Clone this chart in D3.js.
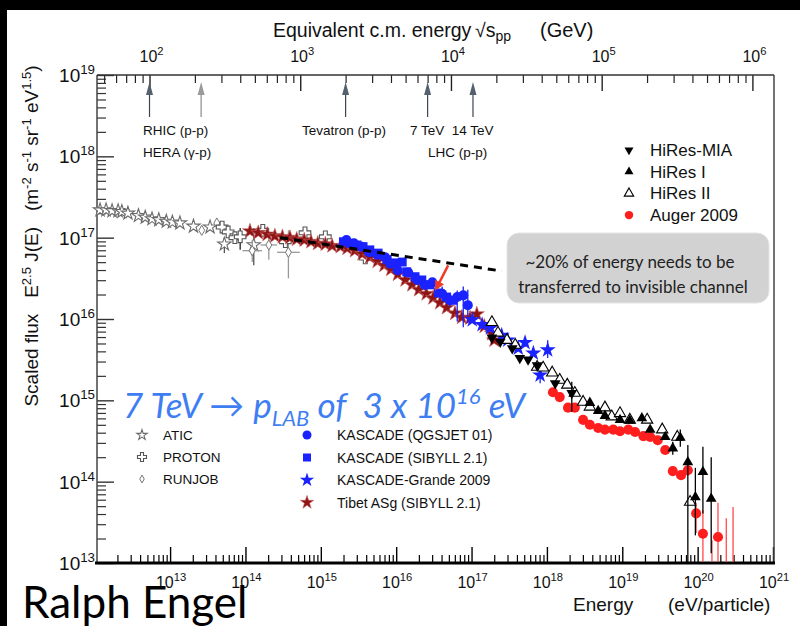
<!DOCTYPE html>
<html>
<head>
<meta charset="utf-8">
<script src="https://cdn.jsdelivr.net/npm/d3@7"></script>
<style>
  body { margin: 0; background: #fff; }
  text { font-family: "Liberation Sans", Arial, sans-serif; }
  .slide { font-family: Lato, "Open Sans", sans-serif; }
</style>
</head>
<body>
<svg id="chart" width="800" height="626"></svg>
<script>
// values: [log10 E (eV), log10 flux, err lo, err hi, E lo, E hi]
var atic = [[12.07,17.34],[12.15,17.34],[12.23,17.33],[12.31,17.33],[12.36,17.32],[12.44,17.30],
  [12.58,17.27],[12.67,17.25],[12.76,17.23],[12.85,17.22],[12.95,17.20],[13.03,17.19],[13.13,17.18],
  [13.31,17.14],[13.53,17.13],[13.72,16.92,16.81,17.00],[14.11,16.91,16.66,17.12]];
var runjob = [[13.42,17.09],[13.62,17.18],[14.09,16.84,16.70,16.97,13.96,14.22],
  [14.31,16.91,16.73,17.07,14.20,14.42],[14.57,16.82,16.50,17.09,14.42,14.72]];
var proton = [[13.69,17.13],[13.77,17.07],[13.86,17.00],[13.93,17.01,16.85,17.12],[14.23,17.09],
  [14.53,16.95],[14.79,17.06],[15.06,17.01],[15.59,16.75]];
var tibet = [[14.06,17.08],[14.17,17.06],[14.29,17.04],[14.39,17.02],[14.49,17.01],[14.59,17.00],
  [14.68,16.98],[14.78,16.97],[14.87,16.95],[14.96,16.93],[15.06,16.92],[15.15,16.90],[15.26,16.89],
  [15.35,16.87],[15.45,16.84],[15.55,16.80],[15.65,16.76],[15.75,16.71],[15.84,16.66],[15.93,16.61],
  [16.02,16.55],[16.12,16.48],[16.21,16.42],[16.30,16.36],[16.40,16.31],[16.49,16.26],[16.58,16.20],
  [16.67,16.14],[16.78,16.07],[16.87,16.02],[16.98,16.01],[17.07,16.06],[17.17,15.91],[17.27,15.82],
  [17.30,15.74]];
var kascadeQ = [[15.34,16.97],[15.44,16.93],[15.53,16.89],[15.64,16.82],[15.75,16.79],[15.85,16.76],
  [15.92,16.68],[16.02,16.60],[16.16,16.57],[16.28,16.48],[16.38,16.42],[16.48,16.45],
  [16.61,16.31,16.22,16.40],[16.71,16.23,16.15,16.31],[16.81,16.27,15.97,16.35],
  [16.89,16.29,15.90,16.40],[16.95,16.17,15.95,16.36]];
var kascadeS = [[15.30,16.95],[15.39,16.93],[15.48,16.91],[15.56,16.89],[15.65,16.85],[15.76,16.81],
  [15.88,16.73],[15.99,16.69],[16.08,16.70],[16.14,16.58],[16.25,16.52],[16.34,16.48],[16.45,16.42],
  [16.56,16.32],[16.67,16.27],[16.75,16.23]];
var grande = [[17.01,15.99],[17.14,15.93],[17.25,15.89],[17.40,15.80],[17.48,15.74],[17.62,15.64],
  [17.71,15.71,15.66,15.76],[17.82,15.58],[17.91,15.31,15.21,15.41],[18.01,15.62,15.52,15.74]];
var hiresMia = [[17.27,15.77],[17.38,15.72],[17.54,15.64],[17.64,15.52],[17.75,15.50],[17.87,15.43],
  [18.11,15.21],[18.33,15.09,14.86,15.23]];
var hires1 = [[18.57,14.97],[18.68,14.87],[18.77,14.81],[18.97,14.76],[19.10,14.75],[19.26,14.78],
  [19.37,14.64],[19.57,14.55],[19.67,14.41,14.33,14.49],[19.77,14.54,14.43,14.64],
  [19.87,14.24,12.9,14.45],[19.97,13.81,13.34,14.17],[20.07,14.12,13.61,14.43],[20.18,13.79,13.12,14.30]];
var hires2 = [[17.27,15.96],[17.35,15.83],[17.47,15.74],[17.58,15.68],[17.87,15.41],[17.95,15.40],
  [18.07,15.34],[18.17,15.25],[18.27,15.19],[18.37,15.09],[18.48,14.98],[18.57,14.92],[18.77,14.91],
  [18.86,14.80],[18.97,14.84],[19.10,14.76],[19.33,14.76],[19.53,14.64],[19.73,14.55],[19.90,13.75]];
var auger = [[18.08,15.10],[18.17,15.04],[18.28,14.91],[18.37,14.91],[18.48,14.76],[18.57,14.70],
  [18.68,14.66],[18.77,14.64],[18.88,14.64],[18.97,14.62],[19.08,14.64],[19.17,14.61],[19.28,14.56],
  [19.37,14.55],[19.47,14.51],[19.57,14.39],[19.67,14.13,14.08,14.19],[19.78,14.08,14.02,14.14],
  [19.87,14.14,14.07,14.20],[19.98,13.61,13.37,13.74],[20.07,13.36,12.9,13.65],[20.27,13.32,12.9,13.74]];
var augerLimits = [[20.19,13.28],[20.38,13.55],[20.47,13.69]];
var extrapolation = [[14.46,17.00],[17.40,16.59]];
var invisibleArrow = [[16.69,16.66],[16.54,16.39]];

var colliderRootS = [100, 220, 2000, 7000, 14000];   // GeV
var bottomDecades = [13, 14, 15, 16, 17, 18, 19, 20, 21];
var leftDecades = [13, 14, 15, 16, 17, 18, 19];
var topDecades = [2, 3, 4, 5, 6];
var legendLeft = ["ATIC", "PROTON", "RUNJOB"];
var legendMid = ["KASCADE (QGSJET 01)", "KASCADE (SIBYLL 2.1)", "KASCADE-Grande 2009", "Tibet ASg (SIBYLL 2.1)"];
var legendRight = ["HiRes-MIA", "HiRes I", "HiRes II", "Auger 2009"];

var svg = d3.select("#chart");
svg.append("rect").attr("width", 800).attr("height", 626).attr("fill", "#fff");
svg.append("rect").attr("width", 800).attr("height", 10).attr("fill", "#000");
svg.append("rect").attr("width", 7).attr("height", 626).attr("fill", "#000");

var x = d3.scaleLog().domain([Math.pow(10, 12.03), 1e21]).range([97, 773]);
var y = d3.scaleLog().domain([1e13, 1e19]).range([563, 75]);
function X(v) { return x(Math.pow(10, v)); }
function Y(v) { return y(Math.pow(10, v)); }
function rootSToE(rs) { return rs * rs / (2 * 0.938) * 1e9; }

// minor tick values
function minors(lo, hi) {
  var out = [];
  for (var n = lo; n < hi; n++) for (var k = 2; k < 10; k++) out.push(k * Math.pow(10, n));
  return out;
}
var xMin = x.domain()[0];
function tidy(color, w) {
  return function (g) {
    g.select(".domain").remove();
    g.selectAll("text").remove();
    g.selectAll("line").attr("stroke", color).attr("stroke-width", w);
  };
}

// bottom axis
svg.append("g").attr("transform", "translate(0,563)")
  .call(d3.axisBottom(x).tickValues(bottomDecades.map(function (d) { return Math.pow(10, d); })).tickSize(-16))
  .call(tidy("#000", 1.4));
svg.append("g").attr("transform", "translate(0,563)")
  .call(d3.axisBottom(x).tickValues(minors(12, 21).filter(function (v) { return v > xMin; })).tickSize(-8))
  .call(tidy("#000", 1.2));

// left axis
svg.append("g").attr("transform", "translate(97,0)")
  .call(d3.axisLeft(y).tickValues(leftDecades.map(function (d) { return Math.pow(10, d); })).tickSize(-17))
  .call(tidy("#333", 1.4));
svg.append("g").attr("transform", "translate(97,0)")
  .call(d3.axisLeft(y).tickValues(minors(13, 19)).tickSize(-9))
  .call(tidy("#333", 1.2));

// top axis in sqrt(s_pp)
var topMinor = [];
for (var n = 1; n < 6; n++) for (var k = 2; k < 10; k++) {
  var e = rootSToE(k * Math.pow(10, n));
  if (e > xMin && e < 1e21) topMinor.push(e);
}
svg.append("g").attr("transform", "translate(0,75)")
  .call(d3.axisTop(x).tickValues(topDecades.map(function (d) { return rootSToE(Math.pow(10, d)); })).tickSize(-16))
  .call(tidy("#222", 1.4));
svg.append("g").attr("transform", "translate(0,75)")
  .call(d3.axisTop(x).tickValues(topMinor).tickSize(-8))
  .call(tidy("#222", 1.2));

// frame
svg.append("line").attr("x1", 97).attr("x2", 97).attr("y1", 75).attr("y2", 563).attr("stroke", "#444").attr("stroke-width", 1.5);
svg.append("line").attr("x1", 97).attr("x2", 774).attr("y1", 75).attr("y2", 75).attr("stroke", "#333").attr("stroke-width", 1.5);
svg.append("line").attr("x1", 774).attr("x2", 774).attr("y1", 75).attr("y2", 563).attr("stroke", "#444").attr("stroke-width", 1.5);
svg.append("line").attr("x1", 95).attr("x2", 775).attr("y1", 563).attr("y2", 563).attr("stroke", "#000").attr("stroke-width", 3);

function powLabel(px, py, exp, anchor, fs) {
  var t = svg.append("text").attr("x", px).attr("y", py).attr("text-anchor", anchor)
    .attr("font-size", fs).attr("fill", "#111");
  t.append("tspan").text("10");
  t.append("tspan").attr("dy", -fs * 0.42).attr("font-size", fs * 0.7).text(exp);
}
leftDecades.forEach(function (d) { powLabel(95, Y(d) + 7, d, "end", 19); });
bottomDecades.forEach(function (d) { powLabel(x(Math.pow(10, d)) + 1, 588, d, "middle", 16); });
topDecades.forEach(function (d) { powLabel(x(rootSToE(Math.pow(10, d))) + 2, 62, d, "middle", 16); });

// axis titles
svg.append("text").attr("x", 273).attr("y", 37).attr("font-size", 19.5).attr("fill", "#111").text("Equivalent c.m. energy");
var rs = svg.append("text").attr("x", 475).attr("y", 37).attr("font-size", 19.5).attr("fill", "#111");
rs.append("tspan").text("\u221As");
rs.append("tspan").attr("dy", 4).attr("font-size", 14).text("pp");
svg.append("text").attr("x", 540).attr("y", 37).attr("font-size", 20).attr("fill", "#111").text("(GeV)");

svg.append("text").attr("x", 573).attr("y", 611).attr("font-size", 19).attr("fill", "#111").text("Energy");
svg.append("text").attr("x", 668).attr("y", 611).attr("font-size", 19).attr("fill", "#111").text("(eV/particle)");

var yt = svg.append("text").attr("transform", "translate(38,236) rotate(-90)").attr("text-anchor", "middle")
  .attr("font-size", 19).attr("fill", "#111").style("white-space", "pre");
[["Scaled flux   E", 0], ["2.5", 1], [" J(E)   (m", 0], ["-2", 1], [" s", 0], ["-1", 1], [" sr", 0], ["-1", 1], [" eV", 0], ["1.5", 1], [")", 0]]
  .forEach(function (p, i, arr) {
    var prev = i > 0 ? arr[i - 1][1] : 0;
    var dy = p[1] && !prev ? -7 : (!p[1] && prev ? 7 : 0);
    yt.append("tspan").attr("dy", dy).attr("font-size", p[1] ? 13 : 19).text(p[0]);
  });

// collider arrows
var arrowColor = ["#3d4550", "#8a8a8a", "#3d4550", "#3d4550", "#3d4550"];
colliderRootS.forEach(function (r, i) {
  var ax = x(rootSToE(r));
  svg.append("line").attr("x1", ax).attr("x2", ax).attr("y1", 90).attr("y2", 117).attr("stroke", arrowColor[i]).attr("stroke-width", 1.2);
  svg.append("path").attr("d", "M" + ax + ",82 L" + (ax - 3.5) + ",95 L" + (ax + 3.5) + ",95 Z").attr("fill", i === 1 ? "#9a9a9a" : "#55606e");
});
function note(px, py, s) {
  svg.append("text").attr("x", px).attr("y", py).attr("font-size", 13.5).attr("fill", "#111").style("white-space", "pre").text(s);
}
note(143, 135, "RHIC (p-p)");
note(143, 157, "HERA (\u03B3-p)");
note(302, 135, "Tevatron (p-p)");
note(410, 135, "7 TeV  14 TeV");
note(428, 157, "LHC (p-p)");

// series drawing
var starT = d3.symbolStar, circT = d3.symbolCircle, sqT = d3.symbolSquare, triT = d3.symbolTriangle;
function drawSeries(data, o) {
  var g = svg.append("g");
  var ec = o.err || o.fill;
  data.filter(function (d) { return d.length > 2; }).forEach(function (d) {
    g.append("line").attr("x1", X(d[0])).attr("x2", X(d[0]))
      .attr("y1", Math.min(Y(d[2]), 562)).attr("y2", Y(d[3])).attr("stroke", ec).attr("stroke-width", 1.3);
    if (d.length > 4) g.append("line").attr("x1", X(d[4])).attr("x2", X(d[5]))
      .attr("y1", Y(d[1])).attr("y2", Y(d[1])).attr("stroke", ec).attr("stroke-width", 1.3);
  });
  g.selectAll("path.m").data(data).join("path")
    .attr("d", d3.symbol().type(o.type).size(o.size))
    .attr("transform", function (d) { return "translate(" + X(d[0]) + "," + Y(d[1]) + ")" + (o.down ? " rotate(180)" : ""); })
    .attr("fill", o.fill).attr("stroke", o.stroke || "none").attr("stroke-width", o.sw || 0);
}
var stAtic = { type: starT, size: 55, fill: "#fff", stroke: "#6a6a6a", sw: 1.1, err: "#555" };
var stRunjob = { type: d3.symbolDiamond, size: 30, fill: "#fff", stroke: "#777", sw: 1, err: "#999" };
var stProton = { type: d3.symbolCross, size: 75, fill: "#fff", stroke: "#555", sw: 1.1, err: "#222" };
var stTibet = { type: starT, size: 70, fill: "#8e1515", stroke: "#c86060", sw: 0.6 };
var stKasQ = { type: circT, size: 80, fill: "#1a22ff" };
var stKasS = { type: sqT, size: 80, fill: "#1a22ff" };
var stGrande = { type: starT, size: 80, fill: "#1a22ff" };
var stMia = { type: triT, size: 50, fill: "#000", down: true };
var stHi1 = { type: triT, size: 50, fill: "#000" };
var stHi2 = { type: triT, size: 55, fill: "#fff", stroke: "#000", sw: 1.1 };
var stAuger = { type: circT, size: 80, fill: "#ff1e1e", err: "#ff4a4a" };

drawSeries(atic, stAtic);
drawSeries(runjob, stRunjob);
drawSeries(proton, stProton);
drawSeries(tibet, stTibet);
drawSeries(kascadeS, stKasS);
drawSeries(kascadeQ, stKasQ);
drawSeries(grande, stGrande);
augerLimits.forEach(function (d) {
  svg.append("line").attr("x1", X(d[0])).attr("x2", X(d[0])).attr("y1", Y(d[1])).attr("y2", 562)
    .attr("stroke", "#ff4a4a").attr("stroke-width", 1.3);
});
drawSeries(auger, stAuger);
drawSeries(hires2, stHi2);
drawSeries(hiresMia, stMia);
drawSeries(hires1, stHi1);

// extrapolated power law
svg.append("path").datum(extrapolation)
  .attr("d", d3.line().x(function (d) { return X(d[0]); }).y(function (d) { return Y(d[1]); }))
  .attr("stroke", "#000").attr("stroke-width", 3).attr("stroke-dasharray", "8,6").attr("fill", "none");

// call-out box
svg.append("rect").attr("x", 507).attr("y", 233).attr("width", 262).attr("height", 70).attr("rx", 12)
  .attr("fill", "#d2d2d2").attr("stroke", "#e4e4e4");
svg.append("text").attr("class", "slide").attr("x", 630).attr("y", 268).attr("text-anchor", "middle")
  .attr("font-size", 17).attr("fill", "#222").text("~20% of energy needs to be");
svg.append("text").attr("class", "slide").attr("x", 633).attr("y", 293).attr("text-anchor", "middle")
  .attr("font-size", 17).attr("fill", "#222").text("transferred to invisible channel");

// red arrow
svg.append("defs").append("marker").attr("id", "rh").attr("viewBox", "0 0 10 10").attr("refX", 6).attr("refY", 5)
  .attr("markerWidth", 4).attr("markerHeight", 4).attr("orient", "auto")
  .append("path").attr("d", "M0,0 L10,5 L0,10 Z").attr("fill", "#f03a25");
svg.append("line").attr("x1", X(invisibleArrow[0][0])).attr("y1", Y(invisibleArrow[0][1]))
  .attr("x2", X(invisibleArrow[1][0])).attr("y2", Y(invisibleArrow[1][1]))
  .attr("stroke", "#f03a25").attr("stroke-width", 2.5).attr("marker-end", "url(#rh)");

// legends
function legendMark(px, py, o, scale) {
  svg.append("path").attr("d", d3.symbol().type(o.type).size(o.size * scale))
    .attr("transform", "translate(" + px + "," + py + ")" + (o.down ? " rotate(180)" : ""))
    .attr("fill", o.fill).attr("stroke", o.stroke || "none").attr("stroke-width", o.sw || 0);
}
[stAtic, stProton, stRunjob].forEach(function (o, i) {
  legendMark(142, 435 + i * 22, o, 0.6);
  svg.append("text").attr("x", 163).attr("y", 440 + i * 22).attr("font-size", 13.5).attr("fill", "#111").text(legendLeft[i]);
});
[stKasQ, stKasS, stGrande, stTibet].forEach(function (o, i) {
  legendMark(307, 435 + i * 22.5, o, 0.8);
  svg.append("text").attr("x", 337).attr("y", 440 + i * 22.5).attr("font-size", 14).attr("fill", "#111").text(legendMid[i]);
});
[stMia, stHi1, stHi2, stAuger].forEach(function (o, i) {
  legendMark(629, 150 + i * 21.7, o, 0.7);
  svg.append("text").attr("x", 650).attr("y", 156 + i * 21.7).attr("font-size", 17).attr("fill", "#111").text(legendRight[i]);
});

// slide overlay text
var bt = svg.append("text").attr("class", "slide").attr("x", 123).attr("y", 418).attr("font-size", 35)
  .attr("font-style", "italic").attr("fill", "#3e7ef2").style("white-space", "pre");
bt.append("tspan").text("7 TeV ");
bt.append("tspan").attr("font-style", "normal").text("\u2192 ");
bt.append("tspan").text("p");
bt.append("tspan").attr("dy", 8).attr("font-size", 22).text("LAB");
bt.append("tspan").attr("dy", -8).text(" of  3 x 10");
bt.append("tspan").attr("dy", -14).attr("font-size", 22).text("16");
bt.append("tspan").attr("dy", 14).text(" eV");

svg.append("text").attr("class", "slide").attr("x", 22).attr("y", 618).attr("font-size", 44).attr("fill", "#000").text("Ralph Engel");
</script>
</body>
</html>
